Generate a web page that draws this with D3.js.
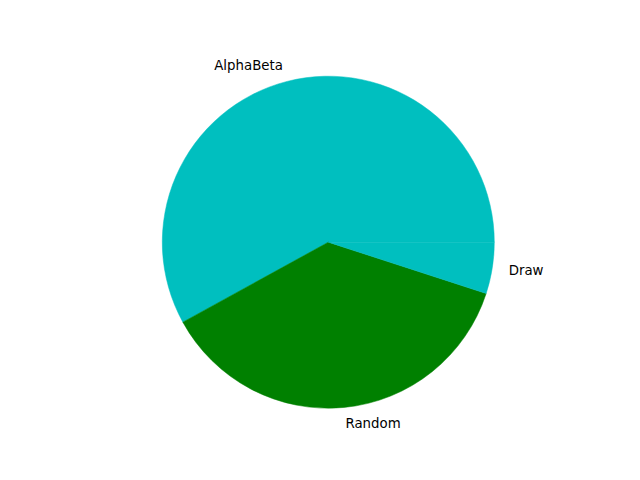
<!DOCTYPE html>
<html><head><meta charset="utf-8">
<script src="https://cdn.jsdelivr.net/npm/d3@7"></script>
<style>body{margin:0;background:#fff}svg{display:block}</style>
</head><body>
<svg id="chart" width="640" height="480"></svg>
<script>
const labels = ["AlphaBeta", "Random", "Draw"];
const values = [58, 37, 5];
const colors = ["#00bfbf", "#008000", "#00bfbf"];

const svg = d3.select("#chart");
const cx = 328.3, cy = 242.2, r = 166;
const g = svg.append("g").attr("transform", `translate(${cx},${cy})`);

const data = labels.map((l, i) => ({label: l, value: values[i], color: colors[i]}));
const pie = d3.pie().value(d => d.value).sort(null)
  .startAngle(Math.PI / 2).endAngle(Math.PI / 2 - 2 * Math.PI);
const arcs = pie(data);
const arc = d3.arc().innerRadius(0).outerRadius(r);

g.selectAll("path.slice").data(arcs).enter().append("path")
  .attr("class", "slice")
  .attr("d", arc)
  .attr("fill", d => d.data.color)
  .attr("stroke", d => d.data.color)
  .attr("stroke-width", 0.5);

g.selectAll("text.lbl").data(arcs).enter().append("text")
  .attr("class", "lbl")
  .each(function(d) {
    const a = (d.startAngle + d.endAngle) / 2;
    const x = 1.1 * r * Math.sin(a);
    const y = -1.1 * r * Math.cos(a);
    d3.select(this).attr("x", x).attr("y", y)
      .attr("text-anchor", x < 0 ? "end" : "start");
  })
  .attr("dominant-baseline", "central")
  .attr("font-family", "DejaVu Sans")
  .attr("font-size", "13.33px")
  .attr("fill", "#000")
  .text(d => d.data.label);
</script>
</body></html>
